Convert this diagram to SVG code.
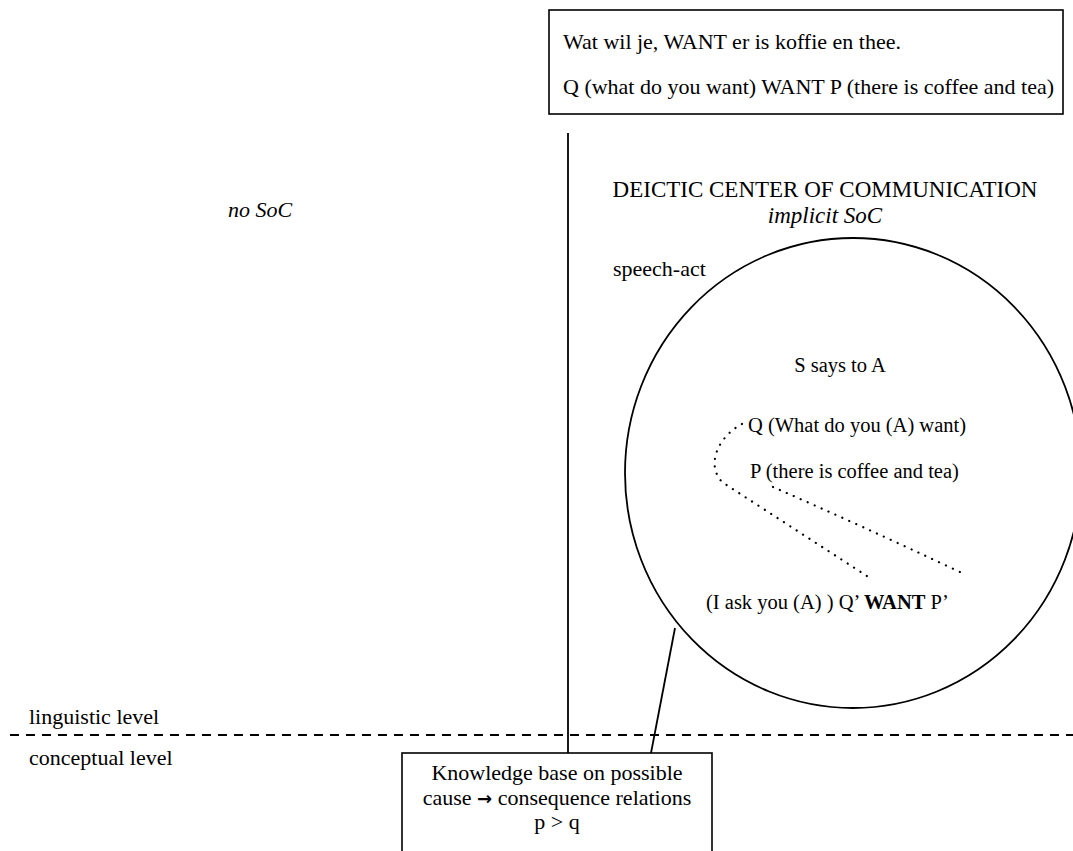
<svg xmlns="http://www.w3.org/2000/svg" width="1073" height="851" viewBox="0 0 1073 851">
  <style>
    text { font-family: "Liberation Serif", "Times New Roman", serif; font-size: 22px; fill: #000; }
    .it { font-style: italic; }
    .b { font-weight: bold; }
    .mid { text-anchor: middle; }
    .head { font-size: 23px; }
    .inner { font-size: 20.5px; }
    .arrow { font-family: "DejaVu Sans", sans-serif; font-weight: bold; font-size: 18px; }
    .box { fill: #fff; stroke: #000; stroke-width: 1.6; }
    .line { fill: none; stroke: #000; stroke-width: 1.8; }
    .dash { fill: none; stroke: #000; stroke-width: 2; stroke-dasharray: 9 7; }
    .dots { fill: none; stroke: #000; stroke-width: 2.2; stroke-linecap: round; stroke-dasharray: 0.1 7.5; }
  </style>
  <rect width="1073" height="851" fill="#fff"/>

  <!-- level separator -->
  <g id="levels">
    <line class="dash" x1="10" y1="735" x2="1073" y2="735"/>
    <text x="29" y="724">linguistic level</text>
    <text x="29" y="765">conceptual level</text>
  </g>

  <!-- connectors -->
  <g id="connectors">
    <line class="line" x1="568" y1="133" x2="568" y2="753"/>
    <line class="line" x1="675" y1="628" x2="651" y2="753"/>
    <path class="dots" d="M742,424 C722,434 704,462 722,482 L870,578"/>
    <path class="dots" d="M773,487 Q860,525 960,572"/>
  </g>

  <!-- example sentence -->
  <g id="example">
    <rect class="box" x="549" y="10" width="514" height="104"/>
    <text x="563" y="49" font-size="21.5">Wat wil je, WANT er is koffie en thee.</text>
    <text x="563" y="94" font-size="21.5">Q (what do you want) WANT P (there is coffee and tea)</text>
  </g>

  <!-- left column -->
  <g id="no-soc">
    <text class="it mid" x="260" y="217">no SoC</text>
  </g>

  <!-- right column heading -->
  <g id="deictic-center">
    <text class="head mid" x="825" y="197">DEICTIC CENTER OF COMMUNICATION</text>
    <text class="head it mid" x="825" y="223">implicit SoC</text>
  </g>

  <!-- speech act circle -->
  <g id="speech-act">
    <text x="613" y="276">speech-act</text>
    <ellipse class="line" cx="853" cy="473" rx="228" ry="235" stroke-width="1.6"/>
    <text class="inner mid" x="840" y="372">S says to A</text>
    <text class="inner" x="748" y="432">Q (What do you (A) want)</text>
    <text class="inner" x="750" y="478">P (there is coffee and tea)</text>
    <text class="inner" x="706" y="609">(I ask you (A) ) Q’ <tspan class="b">WANT</tspan> P’</text>
  </g>

  <!-- knowledge base -->
  <g id="knowledge-base">
    <rect class="box" x="402" y="753" width="310" height="110"/>
    <text class="mid" x="557" y="780">Knowledge base on possible</text>
    <text class="mid" x="557" y="805">cause <tspan class="arrow">→</tspan> consequence relations</text>
    <text class="mid" x="557" y="829">p &gt; q</text>
  </g>
</svg>
